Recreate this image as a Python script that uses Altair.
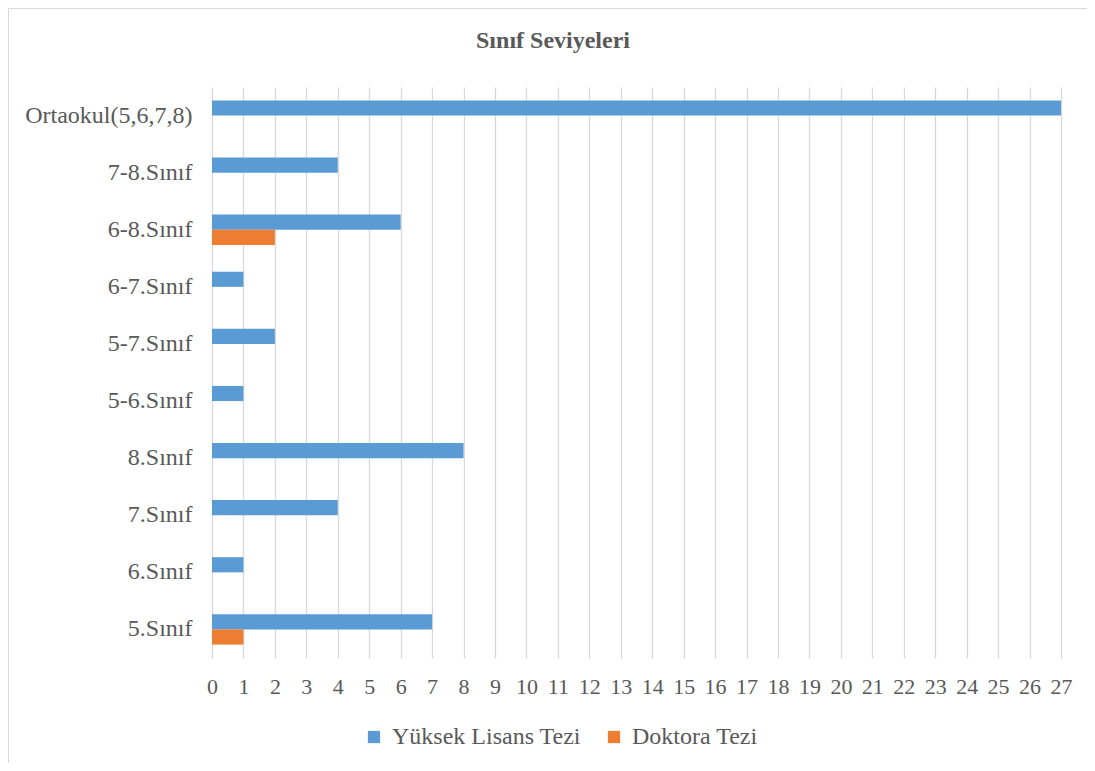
import altair as alt
import pandas as pd

categories = ["Ortaokul(5,6,7,8)", "7-8.Sınıf", "6-8.Sınıf", "6-7.Sınıf", "5-7.Sınıf",
              "5-6.Sınıf", "8.Sınıf", "7.Sınıf", "6.Sınıf", "5.Sınıf"]
yuksek_lisans = [27, 4, 6, 1, 2, 1, 8, 4, 1, 7]
doktora = [0, 0, 2, 0, 0, 0, 0, 0, 0, 1]
series = ["Yüksek Lisans Tezi", "Doktora Tezi"]
colors = ["#5B9BD5", "#ED7D31"]
x_ticks = list(range(0, 28))
title_text = ["Sınıf Seviyeleri"]

rows = []
for c, a, b in zip(categories, yuksek_lisans, doktora):
    rows.append({"cat": c, "series": series[0], "value": a})
    rows.append({"cat": c, "series": series[1], "value": b})
df = pd.DataFrame(rows)

FONT = "Liberation Serif, Times New Roman, serif"
TXT = "#595959"

bars = alt.Chart(df).mark_bar().encode(
    x=alt.X("value:Q",
            scale=alt.Scale(domain=[0, 27], nice=False, zero=True),
            axis=alt.Axis(values=x_ticks, title=None, grid=True, gridColor="#d9d9d9",
                          gridWidth=1.3, domain=False, ticks=False, labelFontSize=22,
                          labelColor=TXT, labelFont=FONT, labelPadding=18,
                          labelFlush=False, labelOverlap=False)),
    y=alt.Y("cat:N", sort=categories,
            scale=alt.Scale(paddingInner=0.47, paddingOuter=0.235),
            axis=alt.Axis(title=None, domain=False, ticks=False, labelFontSize=24,
                          labelColor=TXT, labelFont=FONT, labelPadding=20, labelLimit=400)),
    yOffset=alt.YOffset("series:N", sort=series),
    color=alt.Color("series:N", sort=series,
                    scale=alt.Scale(domain=series, range=colors),
                    legend=alt.Legend(orient="none", legendX=150, legendY=638,
                                      direction="horizontal", title=None,
                                      symbolType="square", symbolSize=150,
                                      symbolStrokeWidth=0, labelFontSize=24,
                                      labelFont=FONT, labelColor=TXT, labelOffset=6,
                                      columnPadding=21, padding=0, labelLimit=400)),
)

one = pd.DataFrame({"t": title_text})

border_left = alt.Chart(one).mark_rule(color="#d9d9d9", strokeWidth=1).encode(
    x=alt.value(-203.5), y=alt.value(-78.5), y2=alt.value(800)
)
border_top = alt.Chart(one).mark_rule(color="#d9d9d9", strokeWidth=1).encode(
    x=alt.value(-203.5), x2=alt.value(1000), y=alt.value(-78.5)
)

title = alt.Chart(one).mark_text(
    font=FONT, fontSize=24, fontWeight="bold", color=TXT,
    align="center", baseline="alphabetic"
).encode(text="t:N", x=alt.value(341), y=alt.value(-39))

chart = alt.layer(border_left, border_top, bars, title).properties(
    width=849, height=571,
    autosize=alt.AutoSizeParams(type="none"),
    padding={"left": 204, "top": 79, "right": 26, "bottom": 105},
).configure_view(strokeWidth=0)

chart.save("out.html", embed_options={"renderer": "svg", "actions": False})
